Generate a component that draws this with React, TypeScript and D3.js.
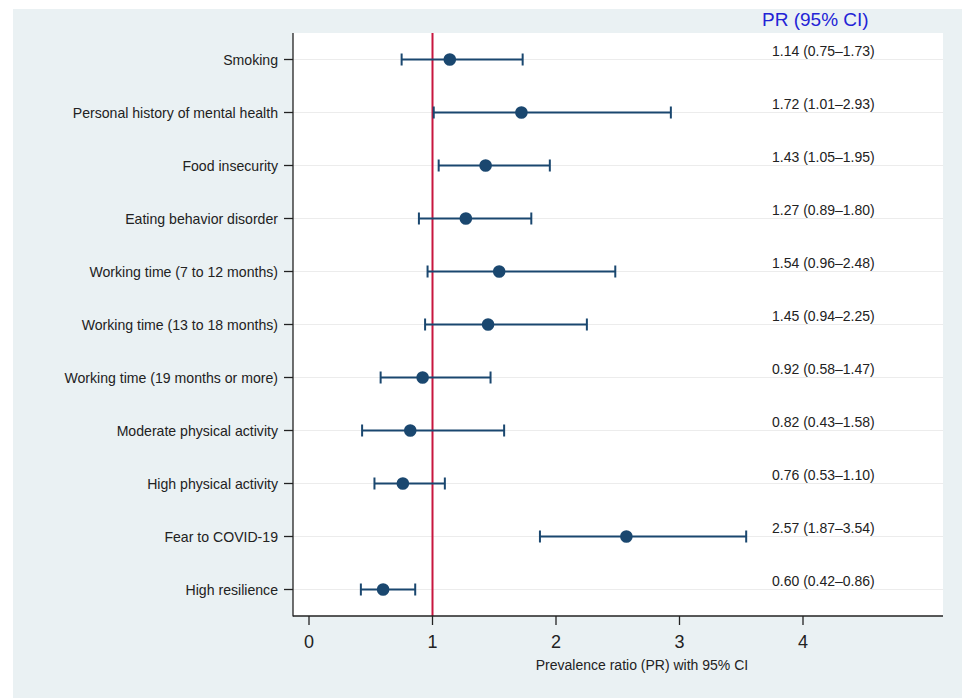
import { useRef, useEffect } from "react";
import * as d3 from "d3";

const labels = [
  "Smoking",
  "Personal history of mental health",
  "Food insecurity",
  "Eating behavior disorder",
  "Working time (7 to 12 months)",
  "Working time (13 to 18 months)",
  "Working time (19 months or more)",
  "Moderate physical activity",
  "High physical activity",
  "Fear to COVID-19",
  "High resilience",
];
const pr = [1.14, 1.72, 1.43, 1.27, 1.54, 1.45, 0.92, 0.82, 0.76, 2.57, 0.6];
const lower = [0.75, 1.01, 1.05, 0.89, 0.96, 0.94, 0.58, 0.43, 0.53, 1.87, 0.42];
const upper = [1.73, 2.93, 1.95, 1.8, 2.48, 2.25, 1.47, 1.58, 1.1, 3.54, 0.86];
const xTicks = [0, 1, 2, 3, 4];

const fmt = d3.format(".2f");

function ForestPlot() {
  const svgRef = useRef<SVGSVGElement>(null);

  useEffect(() => {
    const w = 962;
    const h = 698;
    const left = 293, right = 943, top = 33, bottom = 616;
    const font = "Arial, 'Liberation Sans', sans-serif";
    const navy = "#1a476f";

    const svg = d3.select(svgRef.current).attr("width", w).attr("height", h);
    svg.selectAll("*").remove();

    // backgrounds
    svg.append("rect").attr("x", 13).attr("y", 9).attr("width", w - 13).attr("height", h - 9).attr("fill", "#eaf1f3");
    svg.append("rect").attr("x", left).attr("y", top).attr("width", right - left).attr("height", bottom - top).attr("fill", "#fff");

    const x = d3.scaleLinear().domain([0, 4]).range([309, 803]);
    const y = d3.scaleLinear().domain([-0.5, labels.length - 0.5]).range([top, bottom]);

    const idx = d3.range(labels.length);

    // gridlines
    svg.append("g")
      .selectAll("line")
      .data(idx)
      .enter()
      .append("line")
      .attr("x1", left)
      .attr("x2", right)
      .attr("y1", (i) => y(i))
      .attr("y2", (i) => y(i))
      .attr("stroke", "#ececec")
      .attr("stroke-width", 1.2);

    // reference line at 1
    svg.append("line")
      .attr("x1", x(1)).attr("x2", x(1))
      .attr("y1", top).attr("y2", bottom)
      .attr("stroke", "#c8163f")
      .attr("stroke-width", 2);

    // CI whiskers
    const g = svg.append("g");
    g.selectAll(".ci")
      .data(idx)
      .enter()
      .append("line")
      .attr("x1", (i) => x(lower[i]))
      .attr("x2", (i) => x(upper[i]))
      .attr("y1", (i) => y(i))
      .attr("y2", (i) => y(i))
      .attr("stroke", navy)
      .attr("stroke-width", 2);
    [lower, upper].forEach((arr) => {
      g.selectAll(null)
        .data(idx)
        .enter()
        .append("line")
        .attr("x1", (i) => x(arr[i]))
        .attr("x2", (i) => x(arr[i]))
        .attr("y1", (i) => y(i) - 6)
        .attr("y2", (i) => y(i) + 6)
        .attr("stroke", navy)
        .attr("stroke-width", 2);
    });
    g.selectAll("circle")
      .data(idx)
      .enter()
      .append("circle")
      .attr("cx", (i) => x(pr[i]))
      .attr("cy", (i) => y(i))
      .attr("r", 6.3)
      .attr("fill", navy);

    // PR text column
    svg.append("g")
      .selectAll("text")
      .data(idx)
      .enter()
      .append("text")
      .attr("x", 772)
      .attr("y", (i) => y(i) - 4)
      .attr("font-family", font)
      .attr("font-size", 14)
      .attr("fill", "#222")
      .text((i) => `${fmt(pr[i])} (${fmt(lower[i])}\u2013${fmt(upper[i])})`);

    svg.append("text")
      .attr("x", 762)
      .attr("y", 26)
      .attr("font-family", font)
      .attr("font-size", 19)
      .attr("fill", "#2323d6")
      .text("PR (95% CI)");

    // axes
    svg.append("line").attr("x1", left).attr("x2", left).attr("y1", top).attr("y2", bottom + 0.5).attr("stroke", "#222").attr("stroke-width", 1.3);
    svg.append("line").attr("x1", left).attr("x2", right).attr("y1", bottom).attr("y2", bottom).attr("stroke", "#222").attr("stroke-width", 1.3);

    const yAxis = svg.append("g");
    yAxis.selectAll("line")
      .data(idx)
      .enter()
      .append("line")
      .attr("x1", left - 9).attr("x2", left)
      .attr("y1", (i) => y(i)).attr("y2", (i) => y(i))
      .attr("stroke", "#222").attr("stroke-width", 1.3);
    yAxis.selectAll("text")
      .data(idx)
      .enter()
      .append("text")
      .attr("x", left - 15)
      .attr("y", (i) => y(i) + 5)
      .attr("text-anchor", "end")
      .attr("font-family", font)
      .attr("font-size", 14.1)
      .attr("fill", "#222")
      .text((i) => labels[i]);

    const xAxis = svg.append("g");
    xAxis.selectAll("line")
      .data(xTicks)
      .enter()
      .append("line")
      .attr("x1", (d) => x(d)).attr("x2", (d) => x(d))
      .attr("y1", bottom).attr("y2", bottom + 9)
      .attr("stroke", "#222").attr("stroke-width", 1.3);
    xAxis.selectAll("text")
      .data(xTicks)
      .enter()
      .append("text")
      .attr("x", (d) => x(d))
      .attr("y", 648)
      .attr("text-anchor", "middle")
      .attr("font-family", font)
      .attr("font-size", 18)
      .attr("fill", "#222")
      .text((d) => d);

    svg.append("text")
      .attr("x", 642)
      .attr("y", 670)
      .attr("text-anchor", "middle")
      .attr("font-family", font)
      .attr("font-size", 14)
      .attr("fill", "#222")
      .text("Prevalence ratio (PR) with 95% CI");
  }, []);

  return <svg ref={svgRef} />;
}

export default function App() {
  return (
    <div style={{ position: "absolute", left: 0, top: 0 }}>
      <ForestPlot />
    </div>
  );
}
